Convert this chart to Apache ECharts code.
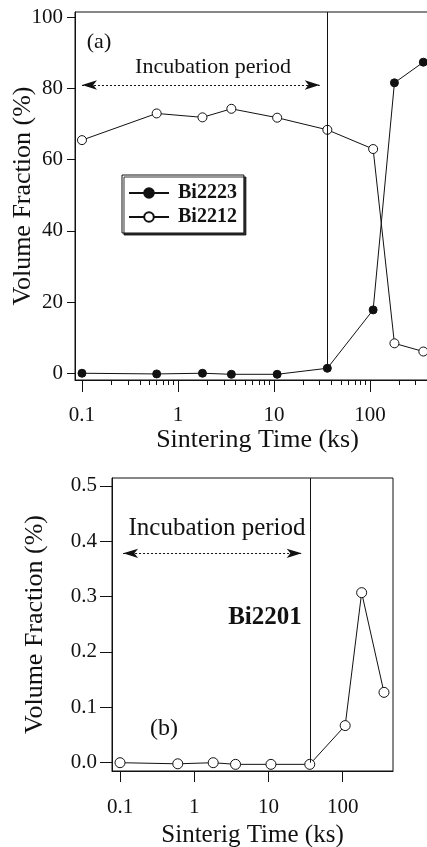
<!DOCTYPE html>
<html>
<head>
<meta charset="utf-8">
<script src="https://cdn.jsdelivr.net/npm/echarts@6.0.0/dist/echarts.min.js"></script>
<style>
  html, body { margin: 0; padding: 0; background: #fff; }
  #chart { width: 427px; height: 847px; }
</style>
</head>
<body>
<div id="chart"></div>
<script>
// sintering times (ks) and volume fractions
var times = [0.1, 0.6, 1.8, 3.6, 10.8, 36, 108, 180, 360];
var bi2223 = [0, -0.2, 0, -0.3, -0.3, 1.4, 17.8, 81.6, 87.4];
var bi2212 = [65.5, 73, 71.9, 74.3, 71.8, 68.4, 63, 8.4, 6.1];
var bi2201 = [0, -0.002, 0, -0.003, -0.003, -0.003, 0.067, 0.307, 0.127];

var xMajor = [0.1, 1, 10, 100];
var xMajorLabels = ['0.1', '1', '10', '100'];
var xMinor = [0.2, 0.3, 0.4, 0.5, 0.6, 0.7, 0.8, 0.9,
              2, 3, 4, 5, 6, 7, 8, 9,
              20, 30, 40, 50, 60, 70, 80, 90,
              200, 300, 400, 500];
var yTicksA = [0, 20, 40, 60, 80, 100];
var yTicksB = [0, 0.1, 0.2, 0.3, 0.4, 0.5];
var incubationEnd = 36;   // ks, end of incubation period

var serif = '"Liberation Serif", "DejaVu Serif", serif';
var ink = '#111';
var lg = Math.log10;

function pairs(ys) {
  return times.map(function (t, i) { return [lg(t), ys[i]]; });
}
function majorLabel(v) {
  var i = xMajor.findIndex(function (m) { return Math.abs(lg(m) - v) < 1e-6; });
  return i >= 0 ? xMajorLabels[i] : '';
}
function note(text, x, y, font) {
  return { type: 'text', x: x, y: y, z: 10,
           style: { text: text, font: font, fill: ink, textAlign: 'center', textVerticalAlign: 'middle' } };
}

var chart = echarts.init(document.getElementById('chart'));

var option = {
  animation: false,
  backgroundColor: '#fff',
  textStyle: { fontFamily: serif, color: ink },
  grid: [
    { left: 75, top: 12, right: -13, height: 368, show: true, borderColor: ink, borderWidth: 1,
      containLabel: false, outerBoundsMode: 'none' },
    { left: 112, top: 478, width: 281, height: 293, show: true, borderColor: ink, borderWidth: 1,
      containLabel: false, outerBoundsMode: 'none' }
  ],
  legend: {
    data: ['Bi2223', 'Bi2212'],
    left: 122, top: 175, orient: 'vertical',
    itemWidth: 40, itemHeight: 12, itemGap: 4,
    padding: [8, 7, 6, 6],
    borderColor: ink, borderWidth: 1, backgroundColor: '#fff',
    shadowColor: 'rgba(0,0,0,0.8)', shadowOffsetX: 2, shadowOffsetY: 2, shadowBlur: 0,
    textStyle: { fontFamily: serif, fontSize: 20, fontWeight: 'bold', color: ink, padding: [0, 0, 0, 4] }
  },
  xAxis: [
    {
      gridIndex: 0, type: 'value', position: 'bottom', min: lg(0.0846), max: lg(537),
      splitLine: { show: false },
      axisLine: { show: true, onZero: false, lineStyle: { color: ink } },
      axisTick: { show: true, inside: false, length: 12, customValues: xMajor.map(lg), lineStyle: { color: ink } },
      axisLabel: { customValues: xMajor.map(lg), formatter: majorLabel, margin: 25, fontSize: 21, fontFamily: serif, color: ink },
      name: 'Sintering Time (ks)', nameLocation: 'middle', nameGap: 47, nameMoveOverlap: false,
      nameTextStyle: { fontSize: 26, fontFamily: serif, color: ink }
    },
    {
      gridIndex: 0, type: 'value', position: 'bottom', min: lg(0.0846), max: lg(537),
      splitLine: { show: false },
      axisLine: { show: false, onZero: false },
      axisTick: { show: true, inside: false, length: 5, customValues: xMinor.map(lg), lineStyle: { color: ink } },
      axisLabel: { show: false }
    },
    {
      gridIndex: 1, type: 'value', position: 'bottom', min: lg(0.078), max: lg(476),
      splitLine: { show: false },
      axisLine: { show: true, onZero: false, lineStyle: { color: ink } },
      axisTick: { show: true, inside: false, length: 11, customValues: xMajor.map(lg), lineStyle: { color: ink } },
      axisLabel: { customValues: xMajor.map(lg), formatter: majorLabel, margin: 26, fontSize: 21, fontFamily: serif, color: ink },
      name: 'Sinterig Time (ks)', nameLocation: 'middle', nameGap: 52, nameMoveOverlap: false,
      nameTextStyle: { fontSize: 25, fontFamily: serif, color: ink }
    }
  ],
  yAxis: [
    {
      gridIndex: 0, type: 'value', position: 'left', min: -1.9, max: 101.5,
      splitLine: { show: false },
      axisLine: { show: true, onZero: false, lineStyle: { color: ink } },
      axisTick: { show: true, inside: false, length: 8, customValues: yTicksA, lineStyle: { color: ink } },
      axisLabel: { customValues: yTicksA, margin: 12, fontSize: 21, fontFamily: serif, color: ink },
      name: 'Volume Fraction (%)', nameLocation: 'middle', nameGap: 39, nameMoveOverlap: false,
      nameTextStyle: { fontSize: 26, fontFamily: serif, color: ink }
    },
    {
      gridIndex: 1, type: 'value', position: 'left', min: -0.015, max: 0.514,
      splitLine: { show: false },
      axisLine: { show: true, onZero: false, lineStyle: { color: ink } },
      axisTick: { show: true, inside: false, length: 12, customValues: yTicksB, lineStyle: { color: ink } },
      axisLabel: { customValues: yTicksB, margin: 15, fontSize: 21, fontFamily: serif, color: ink,
                   formatter: function (v) { return v.toFixed(1); } },
      name: 'Volume Fraction (%)', nameLocation: 'middle', nameGap: 64, nameMoveOverlap: false,
      nameTextStyle: { fontSize: 26, fontFamily: serif, color: ink }
    }
  ],
  series: [
    {
      name: 'Bi2223', type: 'line', xAxisIndex: 0, yAxisIndex: 0,
      data: pairs(bi2223),
      symbol: 'circle', symbolSize: 8,
      itemStyle: { color: ink, borderColor: ink, borderWidth: 1 },
      lineStyle: { color: ink, width: 1 },
      z: 3,
      markLine: {
        silent: true, symbol: ['none', 'none'],
        lineStyle: { color: ink, width: 1, type: 'solid' },
        label: { show: false },
        data: [[{ coord: [lg(incubationEnd), 101.5] }, { coord: [lg(incubationEnd), bi2223[times.indexOf(incubationEnd)]] }]]
      }
    },
    {
      name: 'Bi2212', type: 'line', xAxisIndex: 0, yAxisIndex: 0,
      data: pairs(bi2212),
      symbol: 'circle', symbolSize: 9,
      itemStyle: { color: '#fff', borderColor: ink, borderWidth: 1 },
      lineStyle: { color: ink, width: 1 },
      z: 3,
      markLine: {
        silent: true, symbol: ['arrow', 'arrow'], symbolSize: [7, 15],
        lineStyle: { color: ink, width: 1, type: [2, 2] },
        label: { show: false },
        data: [[{ coord: [lg(0.1), 81] }, { coord: [lg(30), 81] }]]
      }
    },
    {
      name: 'Bi2201', type: 'line', xAxisIndex: 2, yAxisIndex: 1,
      data: pairs(bi2201),
      symbol: 'circle', symbolSize: 10,
      itemStyle: { color: '#fff', borderColor: ink, borderWidth: 1 },
      lineStyle: { color: ink, width: 1 },
      z: 3,
      markLine: {
        silent: true, symbol: ['none', 'none'],
        label: { show: false },
        data: [
          [{ coord: [lg(incubationEnd), 0.514], lineStyle: { color: ink, width: 1, type: 'solid' } },
           { coord: [lg(incubationEnd), 0] }],
          [{ coord: [lg(0.11), 0.378], symbol: 'arrow', symbolSize: [7, 15], lineStyle: { color: ink, width: 1, type: [2, 2] } },
           { coord: [lg(28), 0.378], symbol: 'arrow', symbolSize: [7, 15] }]
        ]
      }
    }
  ],
  graphic: [
    note('(a)', 99, 42, '22px ' + serif),
    note('Incubation period', 213, 67, '22px ' + serif),
    note('Incubation period', 217, 528, '25px ' + serif),
    note('Bi2201', 265, 618, 'bold 25px ' + serif),
    note('(b)', 164, 729, '24px ' + serif)
  ]
};

chart.setOption(option);
</script>
</body>
</html>
